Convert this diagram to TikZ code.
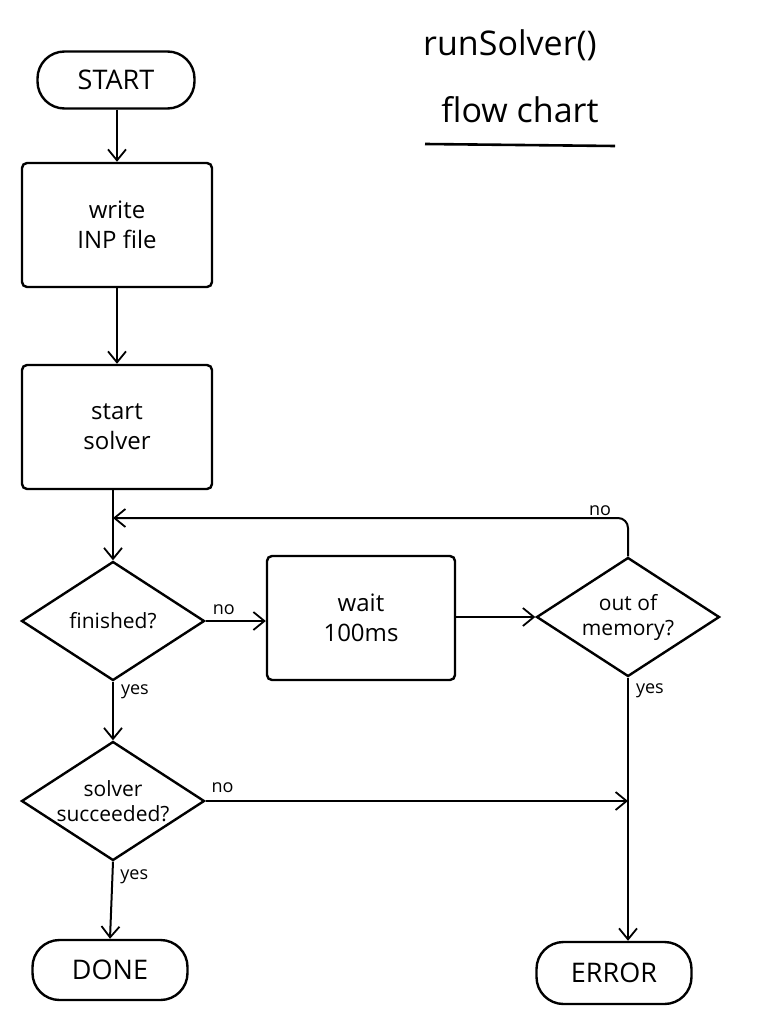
\documentclass[tikz,border=0pt]{standalone}
\usepackage{fontspec}
\setmainfont{Open Sans}
\usetikzlibrary{shapes.geometric,arrows.meta}
\tikzset{
  base/.style={draw, line width=2.4pt, align=center, inner sep=2pt},
  term/.style={base, rectangle, rounded corners=27pt, minimum width=157pt, minimum height=57pt, font=\fontsize{27}{30}\selectfont},
  procbox/.style={base, rectangle, rounded corners=5pt, minimum width=190pt, minimum height=124pt, font=\fontsize{24}{30}\selectfont},
  decide/.style={base, diamond, aspect=1.55, inner sep=0pt, minimum width=183pt, minimum height=119pt, font=\fontsize{21}{25}\selectfont},
  conn/.style={line width=2pt, -{Straight Barb[length=11pt,width=18pt,line width=1.8pt]}},
  lbl/.style={font=\fontsize{18}{20}\selectfont, inner sep=1pt},
}
\begin{document}
\begin{tikzpicture}[x=1pt,y=-1pt]
\useasboundingbox (0,0) rectangle (771,1024);
% title
\node (t1) at (510,45) {\fontsize{34}{38}\selectfont runSolver()};
\node (t2) at (520,110) {\fontsize{34}{38}\selectfont flow chart};
\coordinate (ul1) at (425,144);
\coordinate (ul2) at (615,146);
\draw[line width=2.6pt] (ul1) -- (ul2);
% nodes
\node[term] (start) at (116,80) {START};
\node[procbox] (write) at (117,225) {write\\INP file};
\node[procbox] (solver) at (117,427) {start\\solver};
\node[decide] (fin) at (113,621) {finished?};
\node[procbox, minimum width=188pt, minimum height=124pt] (wait) at (361,618) {wait\\100ms};
\node[decide] (oom) at (628,617) {out of\\memory?};
\node[decide] (succ) at (113,801) {solver\\succeeded?};
\node[term, minimum width=155pt, minimum height=60pt] (done) at (110,970) {DONE};
\node[term, minimum width=155pt, minimum height=62pt] (err) at (614,973) {ERROR};
% connectors
\coordinate (st1) at (start.south -| write.north);
\draw[conn] (st1) -- (write.north);
\draw[conn] (write.south) -- (solver.north);
\coordinate (s1) at (solver.south -| fin.north);
\draw[conn] (s1) -- (fin.north);
\draw[conn] (fin.east) -- (fin.east -| wait.west) node[lbl, midway, above=4pt, xshift=-12pt] {no};
\draw[conn] (wait.east |- oom.west) -- (oom.west);
\coordinate (loopend) at (fin.north |- 0,518);
\draw[conn, rounded corners=10pt] (oom.north) -- (oom.north |- loopend) -- (loopend);
\node[lbl] (nolbl) at (600,511) {no};
\draw[conn] (fin.south) -- (succ.north) node[lbl, pos=0.18, right=6pt] {yes};
\coordinate (e1) at (oom.south |- err.north);
\draw[conn] (oom.south) -- (e1) node[lbl, pos=0.05, right=6pt] {yes};
\draw[conn] (succ.east) -- (succ.east -| oom.south) node[lbl, pos=0.04, above=6pt] {no};
\draw[conn] (succ.south) -- (done.north) node[lbl, pos=0.2, right=6pt] {yes};
\end{tikzpicture}
\end{document}
